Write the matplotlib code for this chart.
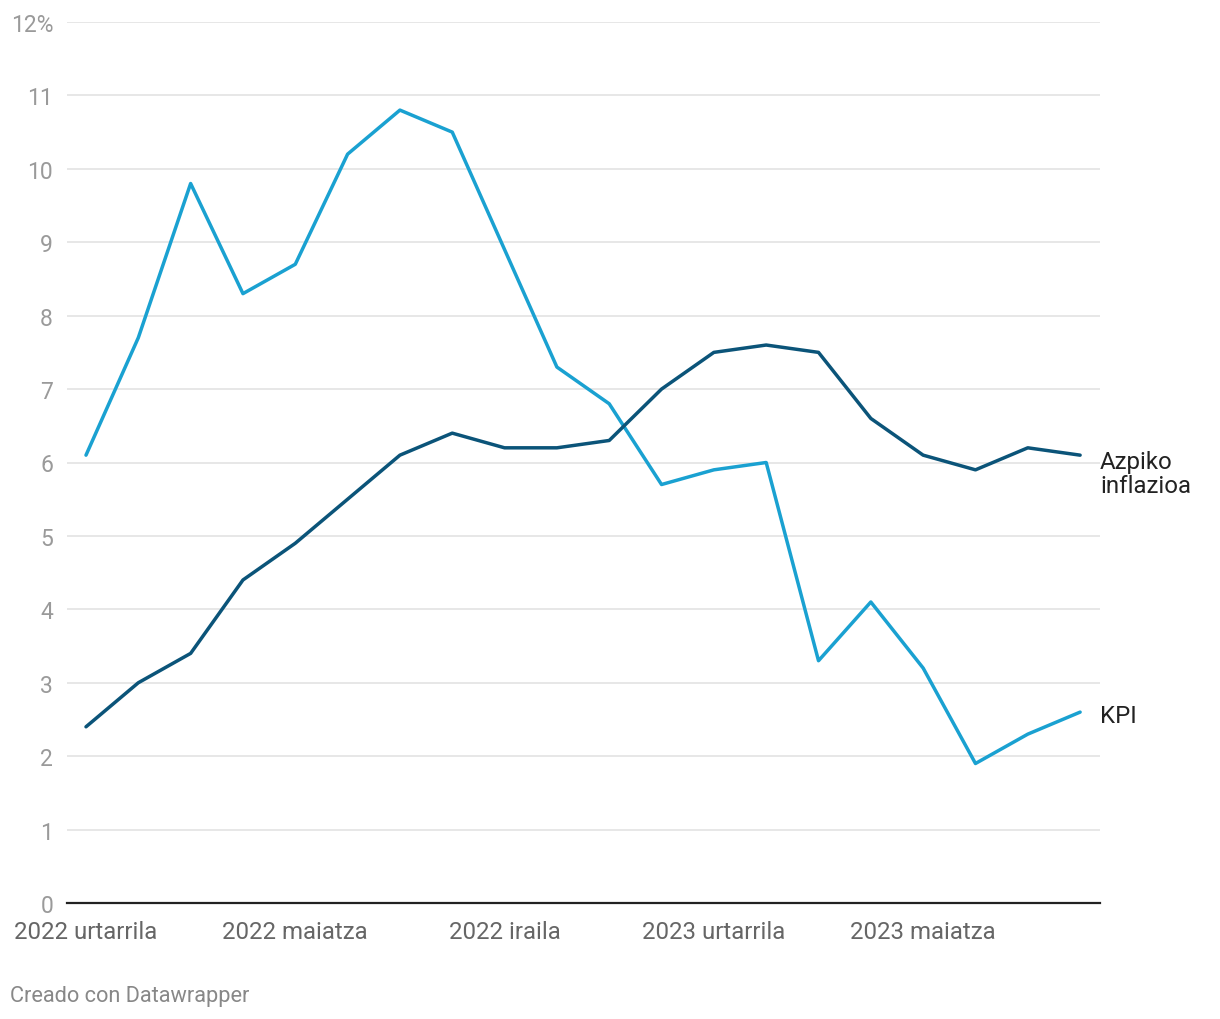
import matplotlib.pyplot as plt

plt.rcParams['font.family'] = ['Roboto', 'DejaVu Sans']

# Hilabeteak: 2022 urtarrila .. 2023 abuztua
hilabeteak = list(range(20))
kpi = [6.1, 7.7, 9.8, 8.3, 8.7, 10.2, 10.8, 10.5, 8.9, 7.3,
       6.8, 5.7, 5.9, 6.0, 3.3, 4.1, 3.2, 1.9, 2.3, 2.6]
azpiko = [2.4, 3.0, 3.4, 4.4, 4.9, 5.5, 6.1, 6.4, 6.2, 6.2,
          6.3, 7.0, 7.5, 7.6, 7.5, 6.6, 6.1, 5.9, 6.2, 6.1]

x_ticks = [0, 4, 8, 12, 16]
x_labels = ["2022 urtarrila", "2022 maiatza", "2022 iraila",
            "2023 urtarrila", "2023 maiatza"]
y_ticks = list(range(0, 13))
y_labels = [str(v) for v in y_ticks[:-1]] + ["12%"]

fig = plt.figure(figsize=(12.2, 10.2), dpi=100)
ax = fig.add_axes([67 / 1220, 1 - 904 / 1020, (1100 - 67) / 1220, (904 - 23) / 1020])

ax.plot(hilabeteak, kpi, color='#1aa1d1', lw=2.5, solid_capstyle='round', zorder=3)
ax.plot(hilabeteak, azpiko, color='#0b5479', lw=2.5, solid_capstyle='round', zorder=3)

ax.set_xlim(-0.363, 19.38)
ax.set_ylim(0, 12)

ax.set_yticks(y_ticks)
ax.set_yticklabels(y_labels, color='#9a9a9a', fontsize=16.5)
ax.set_xticks(x_ticks)
ax.set_xticklabels(x_labels, color='#666666', fontsize=17.3)
ax.tick_params(axis='y', length=0, pad=10)
ax.tick_params(axis='x', length=0, pad=12)

ax.grid(axis='y', color='#e3e3e3', lw=1.2)
ax.set_axisbelow(True)
for s in ['top', 'right', 'left']:
    ax.spines[s].set_visible(False)
ax.spines['bottom'].set_color('#222222')
ax.spines['bottom'].set_linewidth(1.6)

ax.text(19.38, 5.85, "Azpiko\ninflazioa", fontsize=17.3, color='#222222',
        ha='left', va='center', linespacing=1.1, clip_on=False)
ax.text(19.38, 2.55, "KPI", fontsize=17.3, color='#222222',
        ha='left', va='center', clip_on=False)

fig.text(10 / 1220, 1 - 997 / 1020, "Creado con Datawrapper", fontsize=15.7,
         color='#888888', ha='left', va='center')

fig.savefig('out.png', dpi=100)
